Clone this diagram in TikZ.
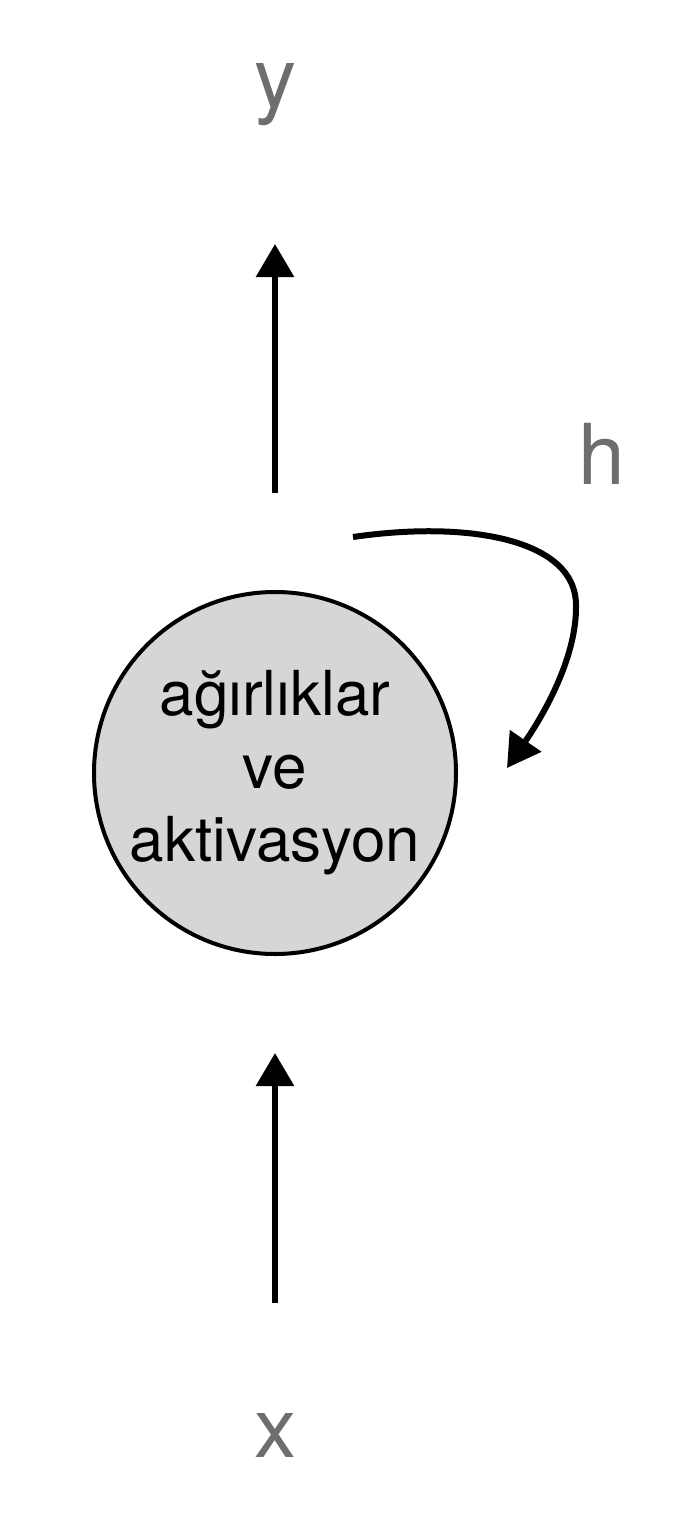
\documentclass[tikz,border=0pt]{standalone}
\usepackage{fontspec}
\setmainfont{TeX Gyre Heros}
\usepackage{xcolor}
\usetikzlibrary{arrows.meta}
\definecolor{cellgray}{RGB}{214, 214, 214}
\definecolor{labelgray}{RGB}{110, 110, 110}

\begin{document}
\begin{tikzpicture}[x=0.5pt, y=-0.5pt,
            neuron/.style = {
                circle,
                draw=black,
                line width=2pt,
                fill=cellgray,
                text=black,
                align=center,
                inner sep=0pt,
                minimum size=181pt,
                font=\fontsize{31}{36.5}\selectfont,
                },
            signal/.style = {
                anchor=base,
                text=labelgray,
                inner sep=0pt,
                font=\fontsize{42}{48}\selectfont},
            flow/.style = {
                line width=3pt,
                -{Triangle[length=16.5pt, width=18.5pt]}}]
            \useasboundingbox[fill=white] (0,0) rectangle (688,1536);
            \node[neuron] (cell) at (275,773) {ağırlıklar\\ve\\aktivasyon};
            \node[signal] (y) at (275,108) {y};
            \node[signal] (x) at (275,1457) {x};
            \node[signal] (h) at (602,484) {h};
            \coordinate (outstart) at (275,493);
            \coordinate (outend) at (275,244);
            \coordinate (instart) at (275,1303);
            \coordinate (inend) at (275,1053);
            \coordinate (hstart) at (353,537);
            \coordinate (hmid) at (576,605);
            \coordinate (hend) at (507,768);
            \draw[flow] (outstart) -- (outend);
            \draw[flow] (instart) -- (inend);
            \draw[flow] (hstart) .. controls (470,520) and (576,540) .. (hmid)
                .. controls (577,660) and (540,720) .. (hend);
        \end{tikzpicture}
\end{document}
